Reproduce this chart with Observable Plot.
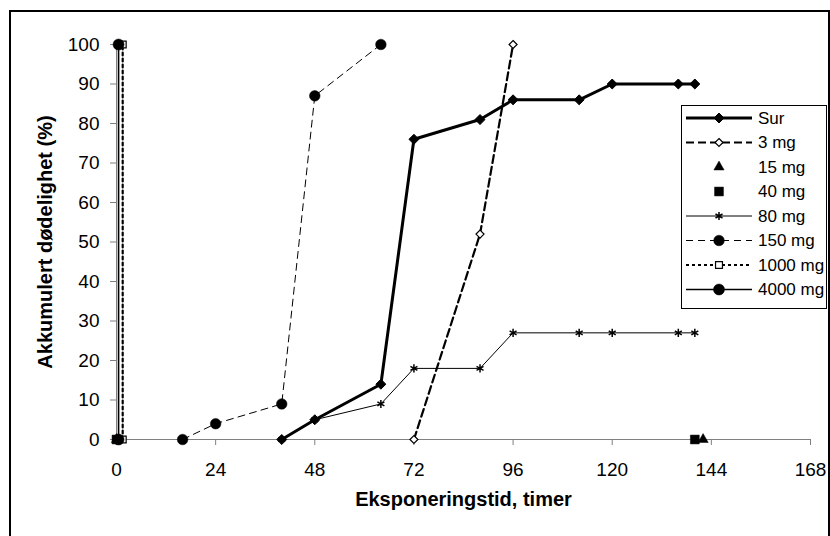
<!DOCTYPE html>
<html><head><meta charset="utf-8">
<script src="https://cdn.jsdelivr.net/npm/d3@7"></script>
<script src="https://cdn.jsdelivr.net/npm/@observablehq/plot@0.6"></script>
<style>
body{margin:0;background:#fff;}
#wrap{position:relative;width:830px;height:536px;overflow:hidden;font-family:"Liberation Sans",Arial,sans-serif;background:#fff;}
#frame{position:absolute;left:9px;top:10px;width:821px;height:600px;border:2px solid #000;box-sizing:border-box;pointer-events:none;}
#legend{position:absolute;left:0;top:0;pointer-events:none;}
</style></head><body><div id="wrap"></div>
<script>
// ---- data ----
const seriesNames = ["Sur","3 mg","15 mg","40 mg","80 mg","150 mg","1000 mg","4000 mg"];
const surX   = [40,48,64,72,88,96,112,120,136,140];
const surY   = [0,5,14,76,81,86,86,90,90,90];
const mg3X   = [72,88,96];
const mg3Y   = [0,52,100];
const mg15X  = [0,142];
const mg15Y  = [0,0];
const mg40X  = [0,140];
const mg40Y  = [0,0];
const mg80X  = [40,48,64,72,88,96,112,120,136,140];
const mg80Y  = [0,5,9,18,18,27,27,27,27,27];
const mg150X = [16,24,40,48,64];
const mg150Y = [0,4,9,87,100];
const mg1000X = [1.5,1.5];
const mg1000Y = [0,100];
const mg4000X = [0.5,0.5];
const mg4000Y = [0,100];
const xTicks = [0,24,48,72,96,120,144,168];
const yTicks = [0,10,20,30,40,50,60,70,80,90,100];
const xTitle = "Eksponeringstid, timer";
const yTitle = "Akkumulert dødelighet (%)";

// ---- styles ----
const seriesXY = [[surX,surY],[mg3X,mg3Y],[mg15X,mg15Y],[mg40X,mg40Y],[mg80X,mg80Y],[mg150X,mg150Y],[mg1000X,mg1000Y],[mg4000X,mg4000Y]];
const styles = [
  {line:true, sw:3,   dash:null,  sym:d3.symbolDiamond2, r:4.5, fill:"black", stroke:"black", ssw:1},
  {line:true, sw:2.2, dash:"8,4", sym:d3.symbolDiamond2, r:3.6, fill:"white", stroke:"black", ssw:1.2},
  {line:false,sw:0,   dash:null,  sym:d3.symbolTriangle, r:3.8, fill:"black", stroke:"black", ssw:0.5},
  {line:false,sw:0,   dash:null,  sym:d3.symbolSquare,   r:5.0, fill:"black", stroke:"black", ssw:0.5},
  {line:true, sw:1,   dash:null,  sym:d3.symbolAsterisk, r:3.8, fill:"none",  stroke:"black", ssw:1.5},
  {line:true, sw:1,   dash:"7,5", sym:d3.symbolCircle,   r:5.3, fill:"black", stroke:"black", ssw:0.5},
  {line:true, sw:2.2, dash:"3,3", sym:d3.symbolSquare,   r:3.9, fill:"white", stroke:"black", ssw:1.2},
  {line:true, sw:1.6, dash:null,  sym:d3.symbolCircle,   r:5.5, fill:"black", stroke:"black", ssw:0.5}
];

const marks = [
  Plot.ruleY([0], {stroke:"#808080", strokeWidth:1}),
  Plot.ruleX([0], {stroke:"#808080", strokeWidth:1}),
  Plot.axisX(xTicks, {tickSize:6, tickPadding:17, stroke:"#808080", fill:"black", label:null, fontSize:19}),
  Plot.axisY(yTicks, {tickSize:6, tickPadding:11, stroke:"#808080", fill:"black", label:null, fontSize:19}),
  Plot.text([xTitle], {frameAnchor:"bottom", dy:66, fontWeight:"bold", fontSize:20, fill:"black"}),
  Plot.text([yTitle], {frameAnchor:"left", dx:-71, rotate:-90, textAnchor:"middle", fontWeight:"bold", fontSize:20, fill:"black"})
];
seriesXY.forEach(([xs,ys],i)=>{
  const s = styles[i];
  const data = xs.map((x,j)=>({x, y:ys[j]}));
  if (s.line) marks.push(Plot.line(data, {x:"x", y:"y", stroke:"black", strokeWidth:s.sw, strokeDasharray:s.dash, strokeLinejoin:"round"}));
  marks.push(Plot.dot(data, {x:"x", y:"y", symbol:s.sym, r:s.r, fill:s.fill, stroke:s.stroke, strokeWidth:s.ssw}));
});

const chart = Plot.plot({
  width:830, height:536,
  marginLeft:116, marginRight:20, marginTop:44, marginBottom:97,
  x:{domain:[0,168]}, y:{domain:[0,100]},
  style:{fontFamily:"'Liberation Sans', Arial, sans-serif", fontSize:"19px", color:"black", background:"transparent"},
  marks
});
const wrap = document.getElementById("wrap");
wrap.appendChild(chart);

// ---- legend ----
const L = {x0:681, y0:105, x1:826, y1:308, first:118, step:24.5, lx0:686, lx1:752, mx:719, tx:758};
const svg = d3.create("svg").attr("id","legend").attr("width",830).attr("height",536);
svg.append("rect").attr("x",L.x0+0.5).attr("y",L.y0+0.5).attr("width",L.x1-L.x0).attr("height",L.y1-L.y0)
  .attr("fill","white").attr("stroke","black").attr("stroke-width",1);
seriesNames.forEach((name,i)=>{
  const s = styles[i], y = L.first + i*L.step;
  if (s.line) svg.append("line").attr("x1",L.lx0).attr("x2",L.lx1).attr("y1",y).attr("y2",y)
    .attr("stroke","black").attr("stroke-width",s.sw).attr("stroke-dasharray",s.dash);
  svg.append("path").attr("transform",`translate(${L.mx},${y})`)
    .attr("d", d3.symbol(s.sym, Math.PI*s.r*s.r)())
    .attr("fill",s.fill).attr("stroke",s.stroke).attr("stroke-width",s.ssw);
  svg.append("text").attr("x",L.tx).attr("y",y).attr("dy","0.35em")
    .attr("font-size",17).attr("font-family","'Liberation Sans', Arial, sans-serif").text(name);
});
wrap.appendChild(svg.node());
const fr = document.createElement("div"); fr.id="frame"; wrap.appendChild(fr);
</script></body></html>
